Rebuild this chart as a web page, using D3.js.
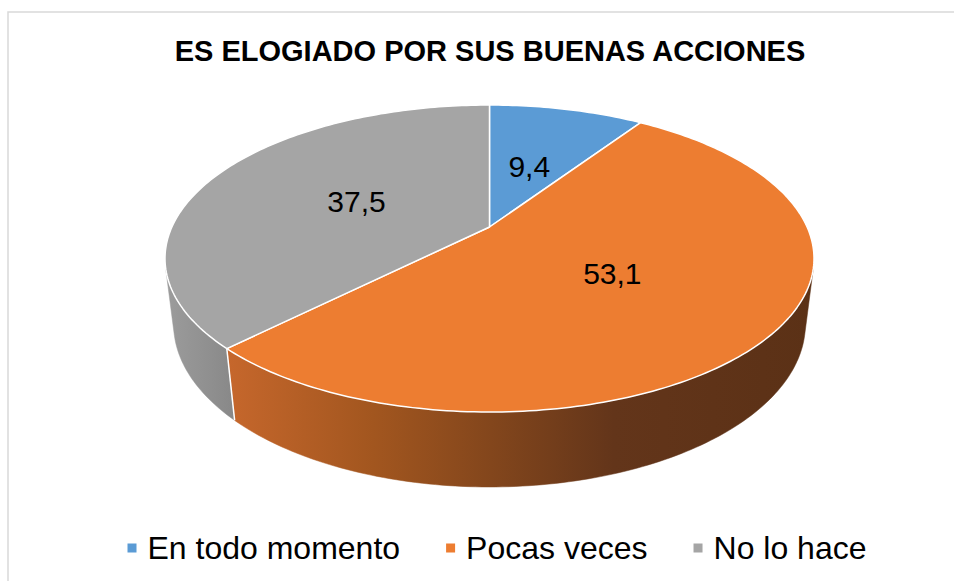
<!DOCTYPE html>
<html>
<head>
<meta charset="utf-8">
<script src="https://cdn.jsdelivr.net/npm/d3@7"></script>
<style>
  html, body { margin: 0; padding: 0; background: #ffffff; }
  svg { display: block; font-family: "Liberation Sans", Arial, sans-serif; }
</style>
</head>
<body>
<svg id="chart" width="954" height="581"></svg>
<script>
// ---- data ----
const title = "ES ELOGIADO POR SUS BUENAS ACCIONES";
const categories = ["En todo momento", "Pocas veces", "No lo hace"];
const values = [9.4, 53.1, 37.5];
const valueLabels = ["9,4", "53,1", "37,5"];
const topColors = ["#5B9BD5", "#ED7D31", "#A5A5A5"];
const sideStops = [
  [["0", "#4a7fb0"], ["1", "#3d6a94"]],
  [["0", "#c6672c"], ["0.25", "#a2561f"], ["0.45", "#83461c"], ["0.66", "#63351a"], ["1", "#5b3116"]],
  [["0", "#9c9c9c"], ["1", "#888888"]]
];

// ---- layout ----
const W = 954, H = 581;
const box = { left: 165, right: 814, top: 105, bottom: 412, sideBottom: 487 };
const elev = 28 * Math.PI / 180;
const apexRatio = (227 - 105) / (412 - 105);
const dist = Math.cos(elev) / (1 - 2 * apexRatio);

const svg = d3.select("#chart");

// border
svg.append("rect")
  .attr("x", 8).attr("y", 12).attr("width", 980).attr("height", 620)
  .attr("fill", "none").attr("stroke", "#d9d9d9").attr("stroke-width", 1.5);

// title
svg.append("text")
  .attr("x", 490).attr("y", 61)
  .attr("text-anchor", "middle")
  .attr("font-weight", "bold")
  .attr("font-size", 29)
  .attr("fill", "#000")
  .text(title);

// perspective projection of a point on the pie (angle a clockwise from 12 o'clock, radius r, height y)
const camY = dist * Math.sin(elev), camZ = dist * Math.cos(elev);
function rawProj(a, r, y) {
  const X = r * Math.sin(a), Z = -r * Math.cos(a), Y = y;
  const px = X, py = Y - camY, pz = Z - camZ;
  const yc = py * Math.cos(elev) - pz * Math.sin(elev);
  const zc = -py * Math.sin(elev) - pz * Math.cos(elev);
  return [px / zc, -yc / zc];
}
const samples = d3.range(0, 720).map(i => rawProj(i / 720 * 2 * Math.PI, 1, 0));
const xs = d3.scaleLinear().domain(d3.extent(samples, d => d[0])).range([box.left, box.right]);
const ys = d3.scaleLinear().domain(d3.extent(samples, d => d[1])).range([box.top, box.bottom]);
function P(a, r, y) { const p = rawProj(a, r, y); return [xs(p[0]), ys(p[1])]; }

// thickness so that the front bottom lands on sideBottom
let lo = 0, hi = 2;
for (let i = 0; i < 60; i++) {
  const mid = (lo + hi) / 2;
  if (P(Math.PI, 1, -mid)[1] < box.sideBottom) lo = mid; else hi = mid;
}
const thick = (lo + hi) / 2;

// visible side range
const av = Math.acos(-1 / (dist * Math.cos(elev)));
const visStart = av, visEnd = 2 * Math.PI - av;

const pie = d3.pie().sort(null).startAngle(0).endAngle(2 * Math.PI);
const arcs = pie(values);

const defs = svg.append("defs");
const line = d3.line();

function arcPoints(a0, a1, r, y) {
  const n = Math.max(2, Math.ceil((a1 - a0) / (Math.PI / 180)));
  return d3.range(n + 1).map(i => P(a0 + (a1 - a0) * i / n, r, y));
}

// sides
const sideG = svg.append("g");
arcs.forEach((d, i) => {
  const a0 = Math.max(d.startAngle, visStart), a1 = Math.min(d.endAngle, visEnd);
  if (a1 <= a0) return;
  const topPts = arcPoints(a0, a1, 1, 0);
  const botPts = arcPoints(a0, a1, 1, -thick).reverse();
  const all = topPts.concat(botPts);
  const ext = d3.extent(all, p => p[0]);
  const gid = "side" + i;
  const g = defs.append("linearGradient").attr("id", gid)
    .attr("gradientUnits", "userSpaceOnUse")
    .attr("x1", ext[0]).attr("x2", ext[1]).attr("y1", 0).attr("y2", 0);
  sideStops[i].forEach(s => g.append("stop").attr("offset", s[0]).attr("stop-color", s[1]));
  sideG.append("path")
    .attr("d", line(all) + "Z")
    .attr("fill", `url(#${gid})`)
    .attr("stroke", `url(#${gid})`).attr("stroke-width", 0.5);
});
// seams on side
arcs.forEach(d => {
  const a = d.endAngle;
  if (a > visStart && a < visEnd) {
    sideG.append("path")
      .attr("d", line([P(a, 1, 0), P(a, 1, -thick)]))
      .attr("stroke", "#ffffff").attr("stroke-width", 1.5).attr("fill", "none");
  }
});

// top faces
const apex = P(0, 0, 0);
const topG = svg.append("g");
arcs.forEach((d, i) => {
  const pts = [apex].concat(arcPoints(d.startAngle, d.endAngle, 1, 0));
  topG.append("path")
    .attr("d", line(pts) + "Z")
    .attr("fill", topColors[i])
    .attr("stroke", "#ffffff").attr("stroke-width", 1.5)
    .attr("stroke-linejoin", "round");
});

// value labels
arcs.forEach((d, i) => {
  const mid = (d.startAngle + d.endAngle) / 2;
  const p = P(mid, 0.47, 0);
  svg.append("text")
    .attr("x", p[0]).attr("y", p[1])
    .attr("text-anchor", "middle")
    .attr("dominant-baseline", "central")
    .attr("font-size", 30)
    .attr("fill", "#000")
    .text(valueLabels[i]);
});

// legend
const legend = svg.append("g");
const items = categories.map((c, i) => {
  const g = legend.append("g");
  g.append("rect").attr("x", 0).attr("y", -4.5).attr("width", 9).attr("height", 9).attr("fill", topColors[i]);
  const t = g.append("text").attr("x", 20).attr("y", 0)
    .attr("dominant-baseline", "central")
    .attr("font-size", 32).attr("fill", "#000").text(c);
  return { g, w: 20 + t.node().getComputedTextLength() };
});
const gap = 46;
const totalW = d3.sum(items, d => d.w) + gap * (items.length - 1);
let lx = 497 - totalW / 2;
items.forEach(it => { it.g.attr("transform", `translate(${lx},548)`); lx += it.w + gap; });
</script>
</body>
</html>
